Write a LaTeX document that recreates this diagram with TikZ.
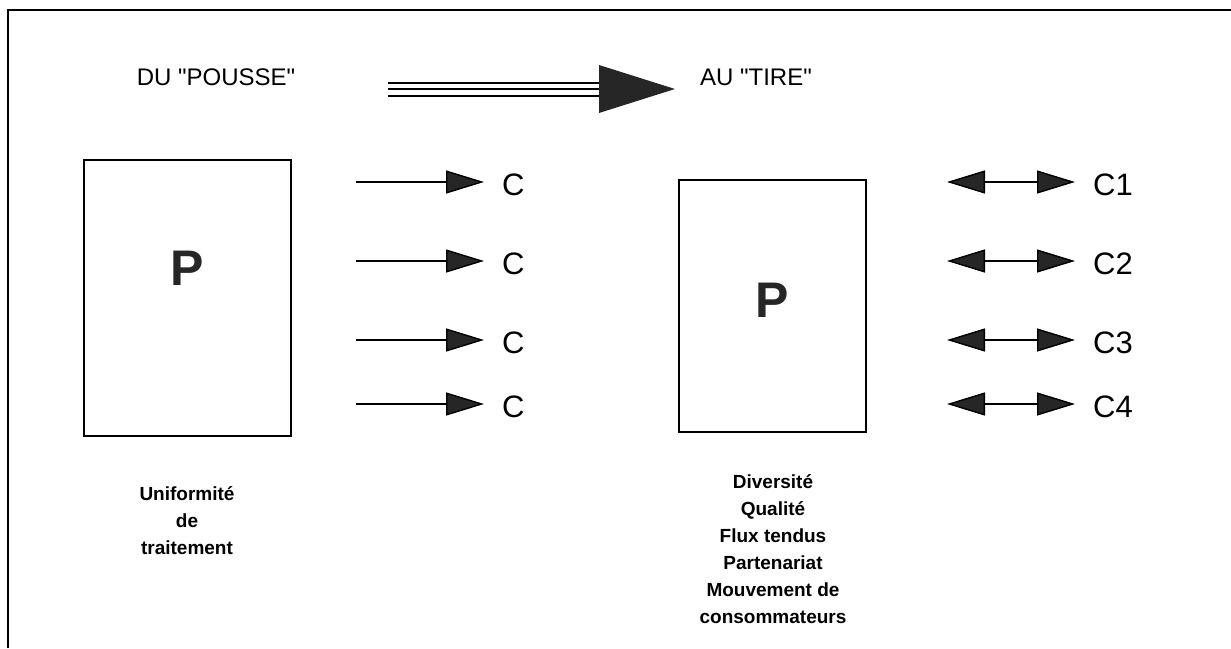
\documentclass[tikz,border=0pt]{standalone}
\usepackage{fontspec}
\setmainfont{Liberation Sans}
\usetikzlibrary{arrows.meta}
\begin{document}
\begin{tikzpicture}[x=1pt,y=-1pt,
  box/.style={draw,line width=1.3pt},
  hdr/.style={font=\fontsize{24}{28}\selectfont,anchor=center,inner sep=0},
  clab/.style={font=\fontsize{31}{36}\selectfont,anchor=west,inner sep=0},
  plab/.style={font=\bfseries\fontsize{50}{56}\selectfont,text=black!85,inner sep=0},
  desc/.style={font=\bfseries\fontsize{19}{27}\selectfont,align=center,anchor=north,inner sep=0},
  flow/.style={line width=1.4pt,-{Triangle[length=38pt,width=23pt,fill=black!85]}},
  both/.style={line width=1.4pt,{Triangle[length=38pt,width=23pt,fill=black!85]}-{Triangle[length=38pt,width=23pt,fill=black!85]}}
  ]
\useasboundingbox (0,0) rectangle (1231,648);
% frame (top and left edges)
\draw[line width=2pt] (8,648) -- (8,10) -- (1231,10);
% header
\node[hdr] (du) at (216,77) {DU \textquotedbl POUSSE\textquotedbl};
\node[hdr] (au) at (756,77) {AU \textquotedbl TIRE\textquotedbl};
\coordinate (bs) at (388,89);
\coordinate (bb) at (599,89);
\coordinate (bt) at (675,89);
\foreach \dy in {-6.5,0,6.5} \draw[line width=2pt] ([yshift=\dy]bs) -- ([yshift=\dy]bb);
\fill[black!85] (bt) -- ([yshift=-24]bb) -- ([yshift=24]bb) -- cycle;
% boxes
\node[box,minimum width=207pt,minimum height=276pt,inner sep=0] (p1) at (187.5,298) {};
\node[plab] at (p1.center) [yshift=30] (p1t) {P};
\node[box,minimum width=187pt,minimum height=252pt,inner sep=0] (p2) at (772.5,306) {};
\node[plab] at (p2.center) [yshift=6] (p2t) {P};
% left arrows
\foreach \y/\n in {182/1,261/2,340/3,404/4}{
  \coordinate (ls\n) at (356,\y);
  \coordinate (le\n) at (484,\y);
  \draw[flow] (ls\n) -- (le\n);
  \node[clab] (c\n) at (502,\y+3) {C};
}
% right arrows
\foreach \y/\n in {182/1,261/2,340/3,404/4}{
  \coordinate (rs\n) at (947,\y);
  \coordinate (re\n) at (1075,\y);
  \draw[both] (rs\n) -- (re\n);
  \node[clab] (cc\n) at (1093,\y+3) {C\n};
}
% descriptions
\node[desc] (d1) at (187,486) {Uniformité\\de\\traitement};
\node[desc] (d2) at (773,474) {Diversité\\Qualité\\Flux tendus\\Partenariat\\Mouvement de\\consommateurs};
\end{tikzpicture}
\end{document}
